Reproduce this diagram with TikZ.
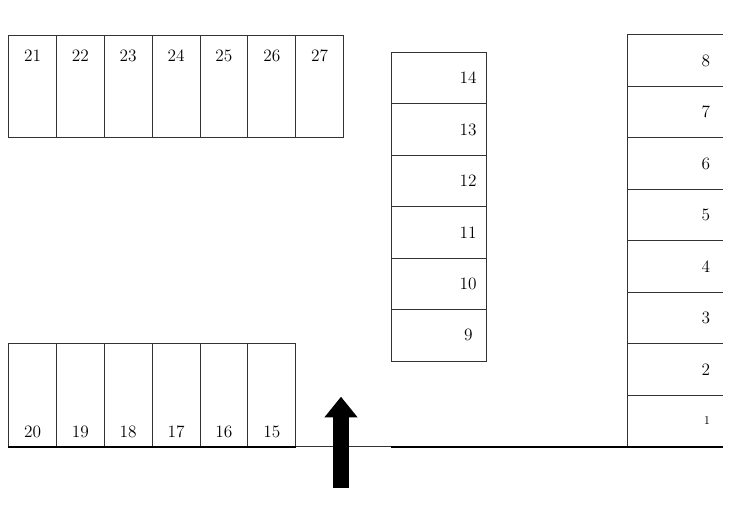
\documentclass[tikz,border=0pt]{standalone}
\usepackage{tikz}
\usetikzlibrary{positioning, arrows.meta}
\tikzstyle{topstall} = [rectangle, draw=black!80, line width=0.7pt, minimum width=35.9pt, minimum height=77pt, inner sep=0pt, text height=19.5pt, text depth=57.5pt, font=\fontsize{13}{15}\selectfont]
\tikzstyle{lowstall} = [rectangle, draw=black!80, line width=0.7pt, minimum width=35.9pt, minimum height=77pt, inner sep=0pt, text height=70.35pt, text depth=6.9pt, font=\fontsize{13}{15}\selectfont]
\tikzstyle{colstall} = [rectangle, draw=black!80, line width=0.7pt, node distance=38.6pt, minimum width=71.25pt, minimum height=38.6pt, inner sep=0pt, text width=57.25pt, align=right, font=\fontsize{13}{15}\selectfont]
\tikzstyle{rowstall} = [rectangle, node distance=38.6pt, minimum width=71.6pt, minimum height=38.6pt, inner sep=0pt, text width=52.1pt, align=right, font=\fontsize{13}{15}\selectfont]
\tikzstyle{divider} = [draw=black!80, line width=0.7pt]
\tikzstyle{wall} = [line width=1.8pt]
\tikzstyle{entry} = [line width=12.5pt, -{Triangle[width=23.8pt, length=15.45pt]}]

\begin{document}
\begin{tikzpicture}[x=0.75pt, y=0.75pt, node distance=35.9pt]
\useasboundingbox (0,0) rectangle (730,523);
% top row
\node(21)[topstall] at (32.5,436.65){21};
\node(22)[topstall, right of = 21]{22};
\node(23)[topstall, right of = 22]{23};
\node(24)[topstall, right of = 23]{24};
\node(25)[topstall, right of = 24]{25};
\node(26)[topstall, right of = 25]{26};
\node(27)[topstall, right of = 26]{27};
% bottom row
\node(20)[lowstall] at (32.5,128.17){20};
\node(19)[lowstall, right of = 20]{19};
\node(18)[lowstall, right of = 19]{18};
\node(17)[lowstall, right of = 18]{17};
\node(16)[lowstall, right of = 17]{16};
\node(15)[lowstall, right of = 16]{15};
% middle column
\node(14)[colstall] at (438.5,444.97){14};
\node(13)[colstall, below of = 14]{13};
\node(12)[colstall, below of = 13]{12};
\node(11)[colstall, below of = 12]{11};
\node(10)[colstall, below of = 11]{10};
\node(9)[colstall, below of = 10]{9\kern3pt};
% right column
\node(8)[rowstall] at (675.25,462.27){8};
\node(7)[rowstall, below of = 8]{7};
\node(6)[rowstall, below of = 7]{6};
\node(5)[rowstall, below of = 6]{5};
\node(4)[rowstall, below of = 5]{4};
\node(3)[rowstall, below of = 4]{3};
\node(2)[rowstall, below of = 3]{2};
\node(1)[rowstall, below of = 2, font=\fontsize{9}{11}\selectfont]{1};
\foreach \n in {1,...,8} \draw[divider] (\n.north west) -- (\n.north east);
\draw[divider] (8.north west) -- (1.south west);
% walls
\draw[wall] (20.south west) -- (15.south east);
\draw[divider] (15.south east) -- (15.south east -| 9.west);
\draw[wall] (15.south east -| 9.west) -- (15.south east -| 1.east);
% entrance
\coordinate(gatetail) at (341,35);
\coordinate(gatetip) at (341,126.3);
\draw[entry](gatetail) -- (gatetip);
\end{tikzpicture}
\end{document}
